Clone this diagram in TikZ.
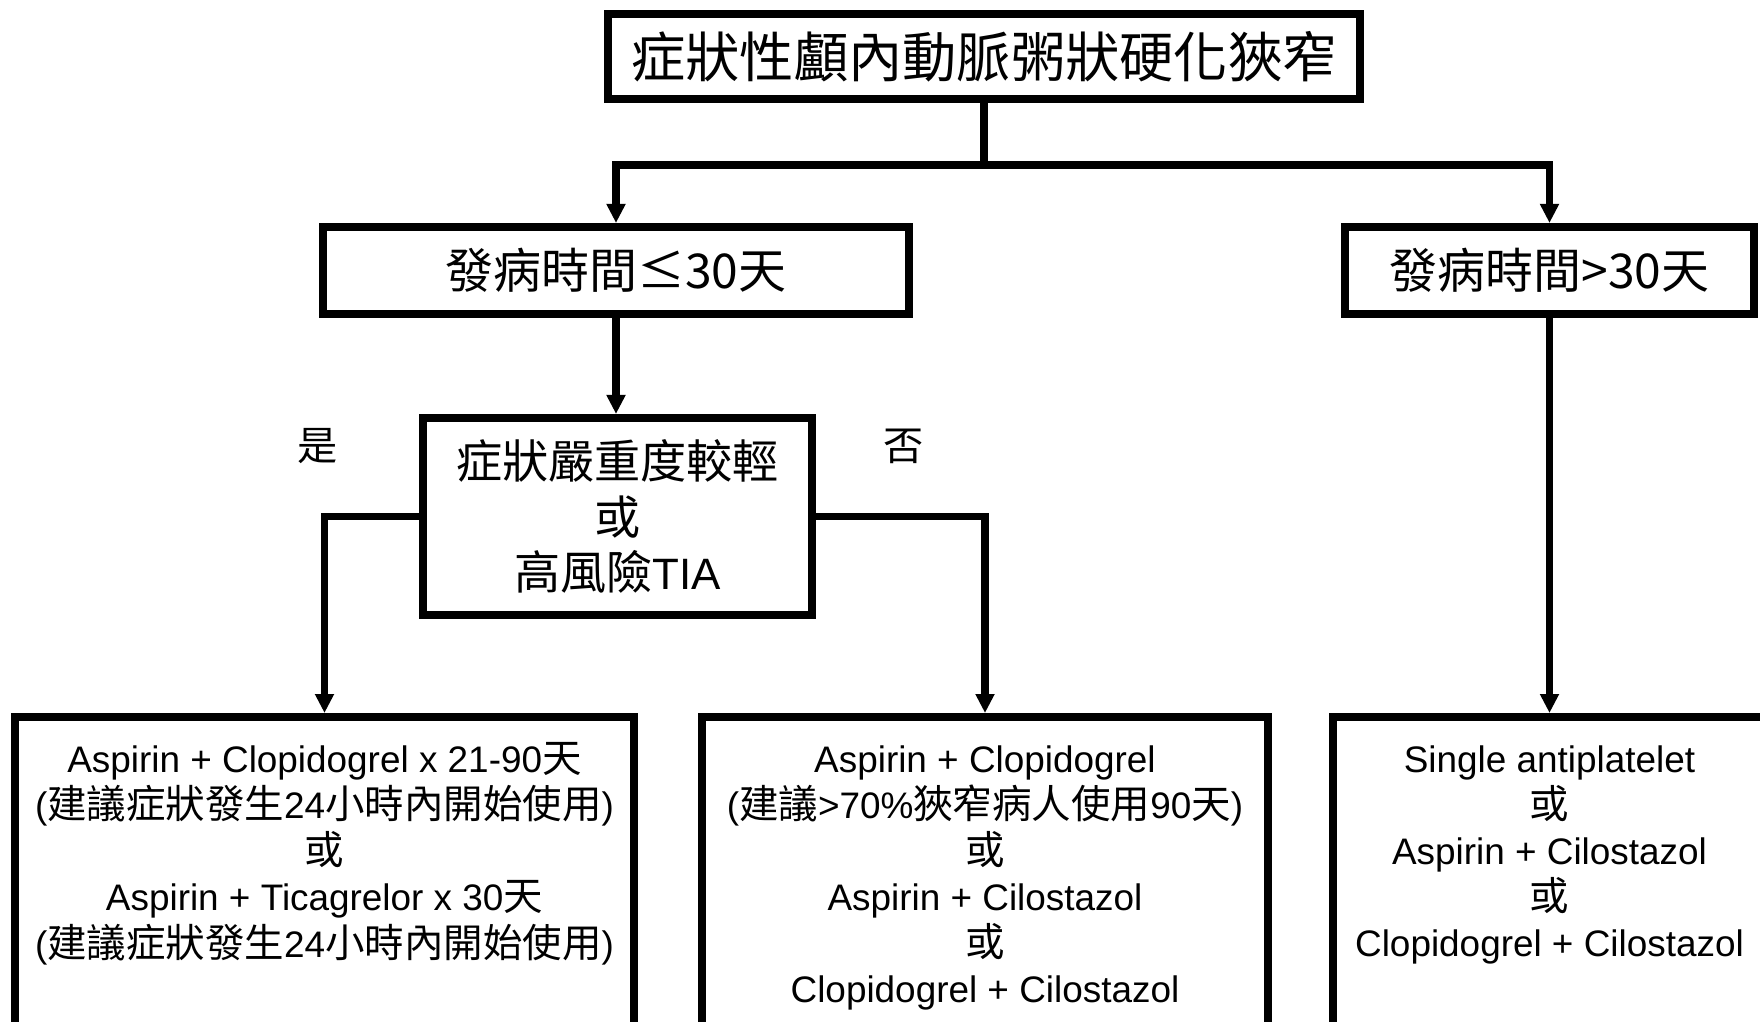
\documentclass[tikz,border=0pt]{standalone}
\usepackage{fontspec}
\setmainfont{Liberation Sans}
\newfontfamily\cjkfont[Scale=1.05]{Noto Sans CJK TC}
\newfontfamily\cjkbody[Scale=1.07]{Noto Sans CJK TC}
\newcommand{\zh}[1]{{\cjkbody #1}}
\usetikzlibrary{arrows.meta,positioning}
\tikzset{
  flowbox/.style={draw=black,line width=2.3pt,inner sep=0pt,align=center},
  headtext/.style={font=\fontsize{14.7}{17}\selectfont\cjkfont},
  steptext/.style={font=\fontsize{13}{15}\selectfont\cjkfont},
  asktext/.style={font=\fontsize{12.5}{15.8}\selectfont},
  drugtext/.style={inner sep=0pt,align=center,
    font=\fontsize{10.5}{13.1}\selectfont},
  answer/.style={font=\fontsize{10.9}{12}\selectfont\cjkfont},
  link/.style={line width=2pt},
  linkarrow/.style={line width=2pt,-{Triangle[length=0.19cm,width=0.18cm]}},
}

\begin{document}
\begin{tikzpicture}
\useasboundingbox (0,0) rectangle (17.6,-10.21);
\clip (0,0) rectangle (17.6,-10.21);
% top level
\node[flowbox,headtext,minimum width=7.52cm,minimum height=0.85cm](onset)
  at(9.84,-0.565){症狀性顱內動脈粥狀硬化狹窄};
\node[flowbox,steptext,minimum width=5.86cm,minimum height=0.87cm](early)
  at(6.16,-2.705){發病時間≤30天};
\node[flowbox,steptext,minimum width=4.09cm,minimum height=0.87cm](late)
  at(15.495,-2.705){發病時間>30天};
\node[flowbox,asktext,minimum width=3.89cm,minimum height=1.97cm](mild)
  at(6.175,-5.165){{\cjkfont 症狀嚴重度較輕}\\{\cjkfont 或}\\{\cjkfont 高風險}TIA};
\node[answer](yes) at(3.18,-4.46){是};
\node[answer](no) at(9.04,-4.46){否};
% treatment boxes (cut at the bottom edge)
\node[flowbox,anchor=north,minimum width=6.19cm,minimum height=3.5cm](dapt)
  at(3.245,-7.13){};
\node[flowbox,anchor=north,minimum width=5.66cm,minimum height=3.5cm](dual)
  at(9.85,-7.13){};
\node[flowbox,anchor=north,minimum width=5.6cm,minimum height=3.5cm](mono)
  at(16.13,-7.13){};
\node[drugtext,below=0.29cm of dapt.north](dapttxt){%
  Aspirin + Clopidogrel x 21-90\zh{天}\\
  (\zh{建議症狀發生}24\zh{小時內開始使用})\\
  \zh{或}\\
  Aspirin + Ticagrelor x 30\zh{天}\\
  (\zh{建議症狀發生}24\zh{小時內開始使用})};
\node[drugtext,below=0.32cm of dual.north](dualtxt){%
  Aspirin + Clopidogrel\\
  (\zh{建議}>70\%\zh{狹窄病人使用}90\zh{天})\\
  \zh{或}\\
  Aspirin + Cilostazol\\
  \zh{或}\\
  Clopidogrel + Cilostazol};
\node[drugtext,below=0.32cm of mono.north -| late.south](monotxt){%
  Single antiplatelet\\
  \zh{或}\\
  Aspirin + Cilostazol\\
  \zh{或}\\
  Clopidogrel + Cilostazol};
% connectors
\coordinate(fork) at(9.84,-1.65);
\draw[link](onset.south)--(fork);
\draw[linkarrow](fork)-|(early.north);
\draw[linkarrow](fork)-|(late.north);
\draw[linkarrow](early.south)--(early.south |- mild.north);
\draw[linkarrow](mild.west)-|(dapt.north);
\draw[linkarrow](mild.east)-|(dual.north);
\draw[linkarrow](late.south)--(late.south |- mono.north);
\end{tikzpicture}
\end{document}
